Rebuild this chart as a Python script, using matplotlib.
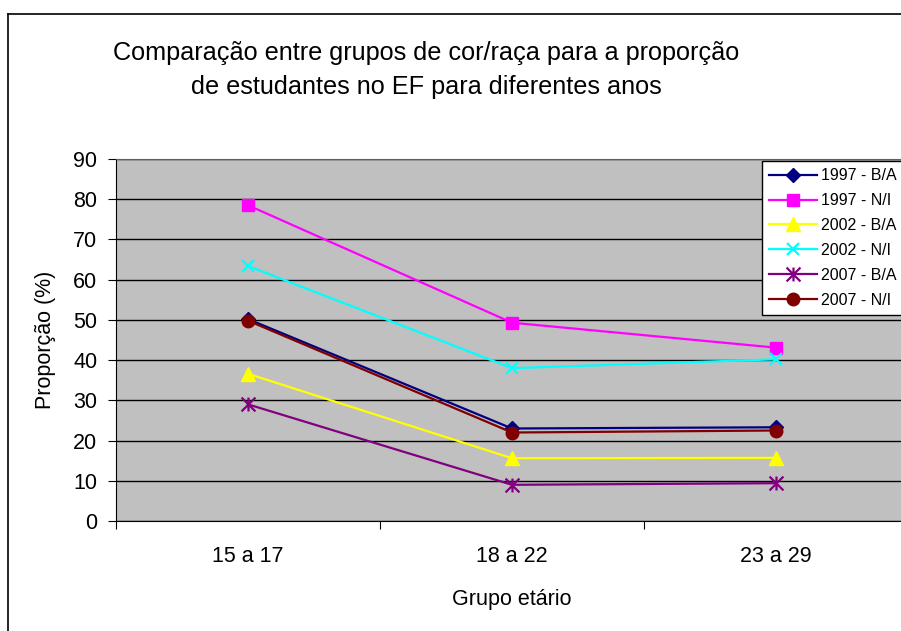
import matplotlib
matplotlib.use('Agg')
import matplotlib.pyplot as plt
from matplotlib.path import Path
from matplotlib.lines import Line2D

plt.rcParams['font.family'] = ['Liberation Sans', 'DejaVu Sans']

# Data
groups = ['15 a 17', '18 a 22', '23 a 29']
series_names = ['1997 - B/A', '1997 - N/I', '2002 - B/A', '2002 - N/I', '2007 - B/A', '2007 - N/I']
v1997_ba = [50.2, 23.0, 23.3]
v1997_ni = [78.5, 49.3, 43.1]
v2002_ba = [36.6, 15.6, 15.7]
v2002_ni = [63.4, 38.0, 40.2]
v2007_ba = [29.0, 9.0, 9.4]
v2007_ni = [49.8, 22.0, 22.5]

star = Path([(0, -1), (0, 1), (-1, -1), (1, 1), (-1, 1), (1, -1)],
            [Path.MOVETO, Path.LINETO, Path.MOVETO, Path.LINETO, Path.MOVETO, Path.LINETO])

styles = [
    dict(color='#000080', marker='D', ms=7),
    dict(color='#FF00FF', marker='s', ms=8),
    dict(color='#FFFF00', marker='^', ms=10),
    dict(color='#00FFFF', marker='x', ms=9, mew=1.6),
    dict(color='#800080', marker=star, ms=10, mew=1.6),
    dict(color='#800000', marker='o', ms=9),
]
values = [v1997_ba, v1997_ni, v2002_ba, v2002_ni, v2007_ba, v2007_ni]

W, H = 901, 631
fig = plt.figure(figsize=(W / 100, H / 100), dpi=100)

# outer chart frame (left and top edges visible)
fig.add_artist(Line2D([8 / W, 8 / W], [0, 1 - 14 / H], color='black', lw=1.2, transform=fig.transFigure))
fig.add_artist(Line2D([8 / W, 1], [1 - 14 / H, 1 - 14 / H], color='black', lw=1.2, transform=fig.transFigure))

left, right, top, bottom = 116, 908, 159, 521
ax = fig.add_axes([left / W, 1 - bottom / H, (right - left) / W, (bottom - top) / H])
ax.set_facecolor('#C0C0C0')

x = range(len(groups))
for name, vals, st in zip(series_names, values, styles):
    ax.plot(x, vals, label=name, lw=1.6, color=st['color'], marker=st['marker'],
            markersize=st['ms'], markeredgewidth=st.get('mew', 1), clip_on=False)

ax.set_xlim(-0.5, 2.5)
ax.set_ylim(0, 90)
ax.set_yticks(range(0, 91, 10))
ax.grid(axis='y', color='black', lw=1)
ax.set_axisbelow(True)

ax.set_xticks([-0.5, 0.5, 1.5])
ax.set_xticklabels([])
ax.set_xticks(list(x), minor=True)
ax.set_xticklabels(groups, minor=True)
ax.tick_params(axis='x', which='major', direction='out', length=6, color='black')
ax.tick_params(axis='x', which='minor', length=0, pad=18, labelsize=15.5)
ax.tick_params(axis='y', direction='out', length=5.5, pad=8, labelsize=15.5)

ax.spines['left'].set_color('black')
ax.spines['bottom'].set_color('black')
ax.spines['top'].set_color('#606060')
ax.spines['right'].set_visible(False)

ax.set_xlabel('Grupo etário', fontsize=15.5, labelpad=16)
ax.set_ylabel('Proporção (%)', fontsize=15.5, labelpad=12)

fig.text(426 / W, 1 - 70 / H, 'Comparação entre grupos de cor/raça para a proporção\nde estudantes no EF para diferentes anos',
         ha='center', va='center', fontsize=18.2, linespacing=1.55)

leg = ax.legend(loc='upper left', bbox_to_anchor=(762 / W, 1 - 161 / H), bbox_transform=fig.transFigure,
                fontsize=11.5, frameon=True, fancybox=False, edgecolor='black', framealpha=1,
                handlelength=3.0, labelspacing=0.62, borderpad=0.45, handletextpad=0.25, borderaxespad=0)
leg.get_frame().set_linewidth(1)

fig.savefig('out.png', dpi=100)
